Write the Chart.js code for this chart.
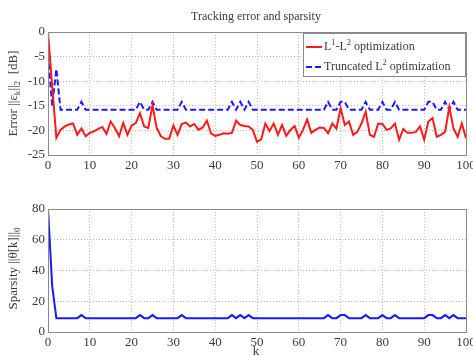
<!DOCTYPE html>
<html>
<head>
<meta charset="utf-8">
<script src="https://cdn.jsdelivr.net/npm/chart.js@4.4.1/dist/chart.umd.min.js"></script>
<style>
  html, body { margin: 0; padding: 0; background: #fff; }
  #wrap { position: relative; width: 473px; height: 356px; overflow: hidden; }
  #errCanvas { position: absolute; left: 0; top: 0; }
  #spCanvas { position: absolute; left: 0; top: 180px; }
</style>
</head>
<body>
<div id="wrap">
  <canvas id="errCanvas" width="473" height="180"></canvas>
  <canvas id="spCanvas" width="473" height="176"></canvas>
</div>
<script>
// time index k
const kValues = [];
for (let i = 0; i <= 100; i++) kValues.push(i);

// tracking error [dB], L1-L2 optimization
const l1l2Error = [
  0, -11, -21.5, -19.9, -19.2, -18.8, -18.6, -20.9, -19.6, -21.2,
  -20.5, -20.2, -19.7, -19.3, -20.7, -18.2, -19.5, -21.2, -18.5, -20.9,
  -19.0, -18.5, -16.5, -19.2, -19.5, -14.9, -19.5, -21.2, -21.7, -21.7,
  -19.0, -20.9, -18.7, -18.4, -19.2, -18.7, -19.9, -19.4, -18.0, -20.6,
  -21.1, -20.9, -20.6, -20.7, -20.5, -18.0, -18.9, -19.1, -19.2, -19.9,
  -22.3, -21.8, -18.6, -20.1, -18.6, -20.9, -18.9, -21.1, -19.9, -19.1,
  -21.5, -19.9, -17.8, -20.5, -19.9, -19.4, -19.5, -20.6, -18.6, -19.6,
  -15.5, -18.9, -18.2, -20.9, -20.3, -18.6, -16.2, -20.9, -21.3, -18.6,
  -18.7, -19.9, -19.6, -18.6, -21.9, -19.7, -20.5, -20.5, -20.3, -19.2,
  -21.9, -18.2, -17.5, -21.3, -20.9, -20.3, -15.2, -19.6, -21.3, -18.6,
  -21.6
];

// tracking error [dB], truncated L2 optimization
const truncError = [
  -4.6, -15.0, -7.5, -15.8, -15.8, -15.8, -15.8, -15.8, -14.2, -15.8,
  -15.8, -15.8, -15.8, -15.8, -15.8, -15.8, -15.8, -15.8, -15.8, -15.8,
  -15.8, -15.8, -14.2, -15.8, -15.8, -14.2, -15.8, -15.8, -15.8, -15.8,
  -15.8, -15.8, -14.2, -15.8, -15.8, -15.8, -15.8, -15.8, -15.8, -15.8,
  -15.8, -15.8, -15.8, -15.8, -14.2, -15.8, -14.2, -15.8, -14.2, -15.8,
  -15.8, -15.8, -15.8, -15.8, -15.8, -15.8, -15.8, -15.8, -15.8, -15.8,
  -15.8, -15.8, -15.8, -15.8, -15.8, -15.8, -15.8, -14.2, -15.8, -15.8,
  -14.2, -14.2, -15.8, -15.8, -15.8, -15.8, -14.2, -15.8, -15.8, -15.8,
  -14.2, -15.8, -15.8, -14.2, -15.8, -15.8, -15.8, -15.8, -15.8, -15.8,
  -15.8, -14.2, -14.2, -15.8, -15.8, -14.2, -15.8, -14.2, -15.8, -15.8,
  -15.8
];

// sparsity ||theta[k]||_0
const sparsity = [
  80, 30, 9, 9, 9, 9, 9, 9, 11, 9,
  9, 9, 9, 9, 9, 9, 9, 9, 9, 9,
  9, 9, 11, 9, 9, 11, 9, 9, 9, 9,
  9, 9, 11, 9, 9, 9, 9, 9, 9, 9,
  9, 9, 9, 9, 11, 9, 11, 9, 11, 9,
  9, 9, 9, 9, 9, 9, 9, 9, 9, 9,
  9, 9, 9, 9, 9, 9, 9, 11, 9, 9,
  11, 11, 9, 9, 9, 9, 11, 9, 9, 9,
  11, 9, 9, 11, 9, 9, 9, 9, 9, 9,
  9, 11, 11, 9, 9, 11, 9, 11, 9, 9,
  9
];

const errTicks = [0, -5, -10, -15, -20, -25];
const spTicks = [0, 20, 40, 60, 80];
const kTicks = [0, 10, 20, 30, 40, 50, 60, 70, 80, 90, 100];

const SERIF = '"Liberation Serif", "Times New Roman", serif';
const TXT = '#3a3a3a';

const toXY = (vals) => vals.map((v, i) => ({ x: kValues[i], y: v }));

// draw text with sub/superscript runs: [[text, shift]] shift -1 sub, +1 super
function richWidth(ctx, runs, size) {
  let w = 0;
  for (const [t, s] of runs) {
    ctx.font = (s ? size * 0.7 : size) + 'px ' + SERIF;
    w += ctx.measureText(t).width;
  }
  return w;
}
function drawRich(ctx, runs, x, y, size, align) {
  const w = richWidth(ctx, runs, size);
  let cx = align === 'center' ? x - w / 2 : x;
  ctx.textBaseline = 'middle';
  ctx.textAlign = 'left';
  for (const [t, s] of runs) {
    const fs = s ? size * 0.7 : size;
    ctx.font = fs + 'px ' + SERIF;
    const dy = s > 0 ? -size * 0.38 : (s < 0 ? size * 0.3 : 0);
    ctx.fillText(t, cx, y + dy);
    cx += ctx.measureText(t).width;
  }
}

function frameAndText(opts) {
  return {
    id: 'frameAndText',
    afterDraw(chart) {
      const { ctx, chartArea: a } = chart;
      ctx.save();
      ctx.strokeStyle = '#8a8a8a';
      ctx.lineWidth = 1;
      ctx.setLineDash([]);
      ctx.strokeRect(a.left + 0.5, a.top + 0.5, a.right - a.left, a.bottom - a.top);
      ctx.fillStyle = TXT;
      // rotated y-axis title
      ctx.save();
      ctx.translate(opts.yTitleX, (a.top + a.bottom) / 2 + opts.yTitleDy);
      ctx.rotate(-Math.PI / 2);
      drawRich(ctx, opts.yTitle, 0, 0, 13, 'center');
      ctx.restore();
      if (opts.title) {
        ctx.font = '12px ' + SERIF;
        ctx.textAlign = 'center';
        ctx.textBaseline = 'middle';
        ctx.fillText(opts.title, (a.left + a.right) / 2 - 1, 17);
      }
      if (opts.xTitle) {
        ctx.font = '13px ' + SERIF;
        ctx.textAlign = 'center';
        ctx.textBaseline = 'middle';
        ctx.fillText(opts.xTitle, (a.left + a.right) / 2 - 1, opts.xTitleY);
      }
      if (opts.legend) {
        const bx = 303, by = a.top + 1, bw = a.right - 303, bh = 44;
        ctx.fillStyle = '#fff';
        ctx.fillRect(bx, by, bw, bh);
        ctx.strokeStyle = '#8a8a8a';
        ctx.strokeRect(bx + 0.5, by + 0.5, bw - 1, bh - 1);
        chart.data.datasets.forEach((ds, i) => {
          const ly = by + 14 + i * 20;
          ctx.strokeStyle = ds.borderColor;
          ctx.lineWidth = 2;
          ctx.setLineDash(ds.borderDash || []);
          ctx.beginPath();
          ctx.moveTo(306, ly);
          ctx.lineTo(322, ly);
          ctx.stroke();
          ctx.setLineDash([]);
          ctx.fillStyle = TXT;
          drawRich(ctx, opts.legend[i], 324, ly, 12, 'left');
        });
      }
      ctx.restore();
    }
  };
}

function axes(yMin, yMax, yTickList, yWidth, xHeight) {
  return {
    x: {
      type: 'linear', min: 0, max: 100,
      afterBuildTicks: (s) => { s.ticks = kTicks.map(v => ({ value: v })); },
      afterFit: (s) => { s.height = xHeight; s.paddingLeft = 0; s.paddingRight = 0; },
      grid: { color: '#bdbdbd', lineWidth: 1, drawTicks: false },
      border: { display: false, dash: [1, 2] },
      ticks: { font: { family: SERIF, size: 13 }, color: TXT, padding: 3, maxRotation: 0 }
    },
    y: {
      type: 'linear', min: yMin, max: yMax,
      afterBuildTicks: (s) => { s.ticks = yTickList.map(v => ({ value: v })); },
      afterFit: (s) => { s.width = yWidth; s.paddingTop = 0; s.paddingBottom = 0; },
      grid: { color: '#bdbdbd', lineWidth: 1, drawTicks: false },
      border: { display: false, dash: [1, 2] },
      ticks: { font: { family: SERIF, size: 13 }, color: TXT, padding: 3 }
    }
  };
}

// tracking error panel
new Chart(document.getElementById('errCanvas'), {
  type: 'line',
  data: {
    datasets: [
      {
        label: 'L1-L2 optimization',
        data: toXY(l1l2Error),
        borderColor: '#ff1a1a', borderWidth: 2, pointRadius: 0, tension: 0
      },
      {
        label: 'Truncated L2 optimization',
        data: toXY(truncError),
        borderColor: '#1a1aff', borderWidth: 2, borderDash: [6, 3], pointRadius: 0, tension: 0
      }
    ]
  },
  options: {
    responsive: false, animation: false,
    layout: { padding: { top: 32, right: 7, left: 0, bottom: 0 } },
    plugins: { legend: { display: false }, tooltip: { enabled: false }, title: { display: false } },
    scales: axes(-25, 0, errTicks, 48, 25)
  },
  plugins: [frameAndText({
    title: 'Tracking error and sparsity',
    yTitle: [['Error ||ε', 0], ['k', -1], ['||', 0], ['2', -1], ['  [dB]', 0]],
    yTitleX: 14, yTitleDy: 0,
    legend: [
      [['L', 0], ['1', 1], ['-L', 0], ['2', 1], [' optimization', 0]],
      [['Truncated L', 0], ['2', 1], [' optimization', 0]]
    ]
  })]
});

// sparsity panel
new Chart(document.getElementById('spCanvas'), {
  type: 'line',
  data: {
    datasets: [
      {
        label: 'Sparsity',
        data: toXY(sparsity),
        borderColor: '#1a1aff', borderWidth: 2, pointRadius: 0, tension: 0
      }
    ]
  },
  options: {
    responsive: false, animation: false,
    layout: { padding: { top: 29, right: 7, left: 0, bottom: 0 } },
    plugins: { legend: { display: false }, tooltip: { enabled: false }, title: { display: false } },
    scales: axes(0, 80, spTicks, 48, 24)
  },
  plugins: [frameAndText({
    yTitle: [['Sparsity ||θ[k]||', 0], ['0', -1]],
    yTitleX: 14, yTitleDy: -2,
    xTitle: 'k', xTitleY: 172
  })]
});
</script>
</body>
</html>
